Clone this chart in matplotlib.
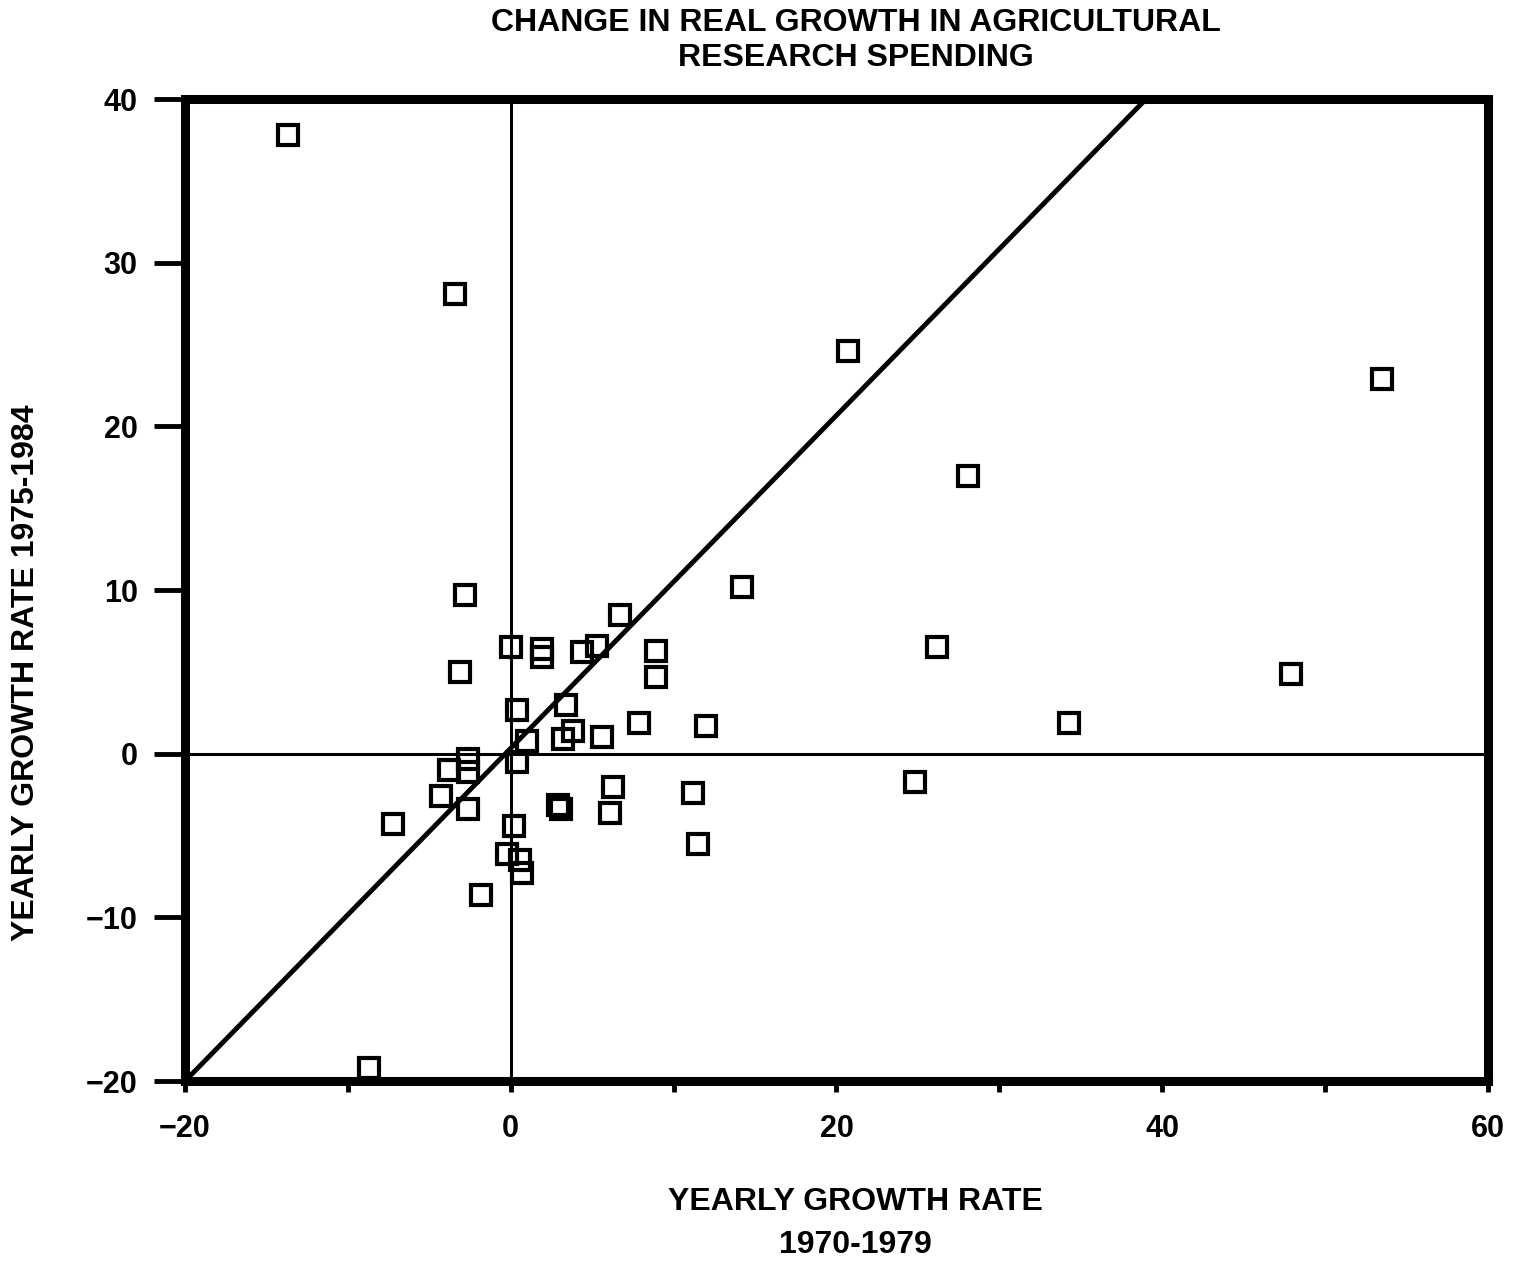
import matplotlib.pyplot as plt

plt.rcParams['font.family'] = ['Liberation Sans', 'DejaVu Sans']
plt.rcParams['font.weight'] = 'bold'

# 1970-1979 growth rate (x) vs 1975-1984 growth rate (y)
growth_70_79 = [-13.7, -3.4, 20.7, 53.5, 28.1, 14.2, 26.2, 47.9, 34.3, 24.8, -8.7,
                -2.8, 6.7, 0.0, 1.9, 1.9, 4.4, 5.3, 8.9, 8.9, -3.1, 0.4, 3.4,
                1.0, 3.2, 3.8, 5.6, 7.9, 12.0, 0.4, -3.8, -2.6, -2.6, -4.3, -2.6,
                -7.2, 6.3, 6.1, 2.9, 3.1, 11.2, 11.5, 0.2, -0.2, 0.6, 0.7, -1.8]
growth_75_84 = [37.8, 28.1, 24.6, 22.9, 17.0, 10.2, 6.5, 4.9, 1.9, -1.7, -19.2,
                9.7, 8.5, 6.5, 6.4, 5.9, 6.2, 6.6, 6.3, 4.7, 5.0, 2.7, 3.0,
                0.8, 0.9, 1.4, 1.0, 1.9, 1.7, -0.5, -1.0, -0.3, -1.1, -2.6, -3.4,
                -4.3, -2.0, -3.6, -3.1, -3.4, -2.4, -5.5, -4.4, -6.1, -6.5, -7.3, -8.6]

line_x = [-20, 39]
line_y = [-20, 40]

fig = plt.figure(figsize=(15.25, 12.63), dpi=100)
ax = fig.add_axes([0.1213, 0.1440, 0.8544, 0.7775])

ax.axhline(0, color='black', lw=2.2, zorder=1)
ax.axvline(0, color='black', lw=2.2, zorder=1)
ax.plot(line_x, line_y, color='black', lw=3.5, zorder=2)
ax.plot(growth_70_79, growth_75_84, 's', ms=14, mfc='none', mec='black',
        mew=3, zorder=3)

ax.set_xlim(-20, 60)
ax.set_ylim(-20, 40)
for s in ax.spines.values():
    s.set_linewidth(6.5)

ax.set_xticks(range(-20, 61, 10))
ax.set_xticklabels(['\u221220', '', '0', '', '20', '', '40', '', '60'])
ax.set_yticks(range(-20, 41, 10))
ax.set_yticklabels(['\u221220', '\u221210', '0', '10', '20', '30', '40'])
ax.tick_params(axis='x', direction='out', length=8, width=3.5, labelsize=22, pad=16)
ax.tick_params(axis='y', direction='out', length=22, width=3.5, labelsize=22, pad=12)

fig.text(0.561, 0.982, 'CHANGE IN REAL GROWTH IN AGRICULTURAL', ha='center',
         va='center', fontsize=23, fontweight='bold')
fig.text(0.561, 0.954, 'RESEARCH SPENDING', ha='center', va='center',
         fontsize=23, fontweight='bold')
fig.text(0.561, 0.048, 'YEARLY GROWTH RATE', ha='center', va='center',
         fontsize=23, fontweight='bold')
fig.text(0.561, 0.014, '1970-1979', ha='center', va='center',
         fontsize=23, fontweight='bold')
fig.text(0.017, 0.467, 'YEARLY GROWTH RATE 1975-1984', ha='center', va='center',
         rotation=90, fontsize=23, fontweight='bold')

fig.savefig('out.png', dpi=100)
